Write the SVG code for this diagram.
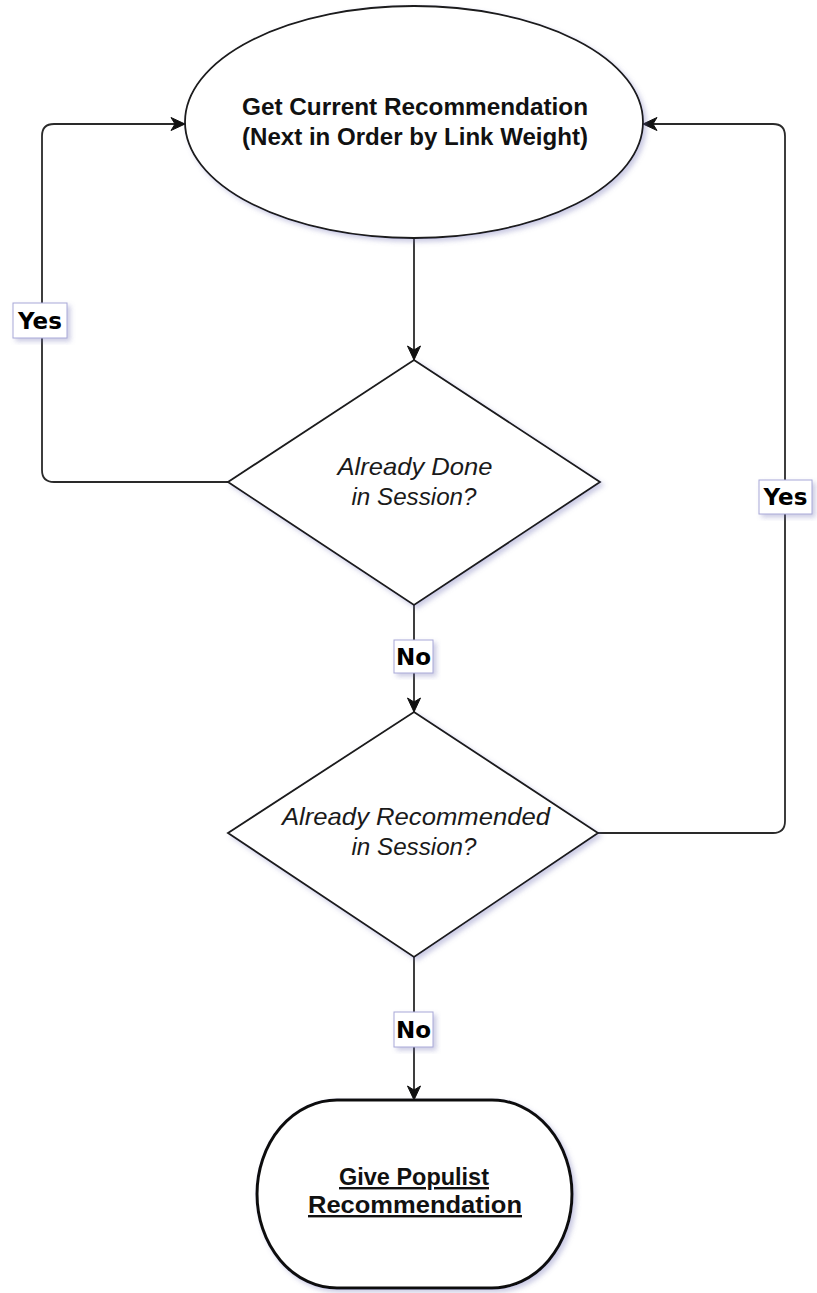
<svg xmlns="http://www.w3.org/2000/svg" width="817" height="1293" viewBox="0 0 817 1293">
<defs>
  <filter id="sh" x="-10%" y="-10%" width="130%" height="130%">
    <feDropShadow dx="3" dy="3" stdDeviation="2.5" flood-color="#6a6ab0" flood-opacity="0.35"/>
  </filter>
  <marker id="arr" viewBox="0 0 16 16" refX="15" refY="8" markerWidth="16" markerHeight="16" markerUnits="userSpaceOnUse" orient="auto">
    <path d="M1,1.5 L15,8 L1,14.5 L5,8 z" fill="#111" stroke="#111" stroke-width="1"/>
  </marker>
  <style>
    .shape { fill: #fff; stroke: #1a1a1a; stroke-width: 1.8; filter: url(#sh); }
    .term { fill: #fff; stroke: #111; stroke-width: 3; filter: url(#sh); }
    .conn { fill: none; stroke: #2a2a2a; stroke-width: 1.8; marker-end: url(#arr); }
    .lblbox { fill: #fff; stroke: #a8a8d8; stroke-width: 1; filter: url(#sh); }
    .lbl { font-family: "DejaVu Sans", sans-serif; font-weight: bold; font-size: 23px; fill: #000; text-anchor: middle; }
    .bold { font-family: "Liberation Sans", Arial, sans-serif; font-weight: bold; font-size: 24px; fill: #111; text-anchor: middle; }
    .ital { font-family: "Liberation Sans", Arial, sans-serif; font-style: italic; font-size: 24px; fill: #1a1a1a; text-anchor: middle; }
  </style>
</defs>
<rect width="817" height="1293" fill="#fff"/>

<g id="connectors">
  <path class="conn" d="M414,238 L414,360"/>
  <path class="conn" d="M228,482 L54,482 Q42,482 42,470 L42,136 Q42,124 54,124 L185,124"/>
  <path class="conn" d="M414,605 L414,712"/>
  <path class="conn" d="M598,833 L773,833 Q785,833 785,821 L785,136 Q785,124 773,124 L643,124"/>
  <path class="conn" d="M414,957 L414,1100"/>
  <g id="label-yes-left">
    <rect class="lblbox" x="13" y="303" width="54" height="35"/>
    <text class="lbl" x="40" y="329">Yes</text>
  </g>
  <g id="label-yes-right">
    <rect class="lblbox" x="759" y="480" width="53" height="34"/>
    <text class="lbl" x="785.5" y="505">Yes</text>
  </g>
  <g id="label-no-1">
    <rect class="lblbox" x="394" y="640" width="39" height="33"/>
    <text class="lbl" x="413.5" y="665">No</text>
  </g>
  <g id="label-no-2">
    <rect class="lblbox" x="394" y="1012" width="39" height="35"/>
    <text class="lbl" x="413.5" y="1038">No</text>
  </g>
</g>

<g id="node-start">
  <ellipse class="shape" cx="414" cy="122" rx="229" ry="116"/>
  <text class="bold" x="415" y="115" textLength="346" lengthAdjust="spacingAndGlyphs">Get Current Recommendation</text>
  <text class="bold" x="415" y="145" textLength="346" lengthAdjust="spacingAndGlyphs">(Next in Order by Link Weight)</text>
</g>

<g id="node-done">
  <polygon class="shape" points="414,360 600,482 414,605 228,482"/>
  <text class="ital" x="415" y="475" textLength="155" lengthAdjust="spacingAndGlyphs">Already Done</text>
  <text class="ital" x="414" y="505" textLength="125" lengthAdjust="spacingAndGlyphs">in Session?</text>
</g>

<g id="node-recommended">
  <polygon class="shape" points="414,712 598,833 414,957 228,833"/>
  <text class="ital" x="416" y="825" textLength="268" lengthAdjust="spacingAndGlyphs">Already Recommended</text>
  <text class="ital" x="414" y="855" textLength="125" lengthAdjust="spacingAndGlyphs">in Session?</text>
</g>

<g id="node-populist">
  <rect class="term" x="257" y="1100" width="315" height="188" rx="80" ry="94"/>
  <text class="bold" x="414" y="1185" textLength="150" lengthAdjust="spacingAndGlyphs" text-decoration="underline">Give Populist</text>
  <text class="bold" x="415" y="1213" textLength="214" lengthAdjust="spacingAndGlyphs" text-decoration="underline">Recommendation</text>
</g>
</svg>
